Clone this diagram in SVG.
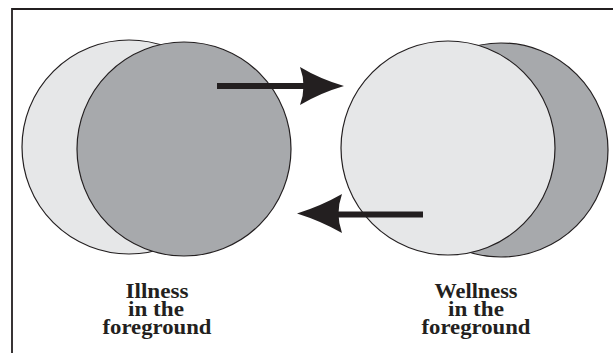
<svg xmlns="http://www.w3.org/2000/svg" width="613" height="353" viewBox="0 0 613 353">
<style>
.dark{fill:#a7a9ac;stroke:#231f20;stroke-width:1.2}
.light{fill:#e6e7e8;stroke:#231f20;stroke-width:1.2}
.shaft{stroke:#231f20;stroke-width:6;fill:none}
.head{fill:#231f20}
.lbl{font-family:"Liberation Serif","Times New Roman",serif;font-weight:bold;font-size:22px;fill:#231f20;text-anchor:middle}
</style>
<rect width="613" height="353" fill="#ffffff"/>
<path d="M12,353 V9 H613" fill="none" stroke="#231f20" stroke-width="1.8"/>
<g id="illness">
<circle class="light" cx="129" cy="147" r="107"/>
<circle class="dark" cx="184" cy="149" r="107"/>
<text class="lbl" x="157" y="298" textLength="63" lengthAdjust="spacingAndGlyphs">Illness</text>
<text class="lbl" x="156" y="316" textLength="56" lengthAdjust="spacingAndGlyphs">in the</text>
<text class="lbl" x="157" y="334" textLength="109" lengthAdjust="spacingAndGlyphs">foreground</text>
</g>
<g id="wellness">
<circle class="dark" cx="501" cy="150" r="107"/>
<circle class="light" cx="448" cy="148" r="107"/>
<text class="lbl" x="476" y="298" textLength="83" lengthAdjust="spacingAndGlyphs">Wellness</text>
<text class="lbl" x="476" y="316" textLength="56" lengthAdjust="spacingAndGlyphs">in the</text>
<text class="lbl" x="476" y="334" textLength="109" lengthAdjust="spacingAndGlyphs">foreground</text>
</g>
<g id="connectors">
<line class="shaft" x1="217" y1="86" x2="310" y2="86"/>
<path class="head" d="M344,86 Q320,79 300,67 Q307,86 300,105 Q320,93 344,86 Z"/>
<line class="shaft" x1="423" y1="214.5" x2="330" y2="214.5"/>
<path class="head" d="M297,213.5 Q321,206 342,194 Q335,213.5 342,233 Q321,221 297,213.5 Z"/>
</g>
</svg>
